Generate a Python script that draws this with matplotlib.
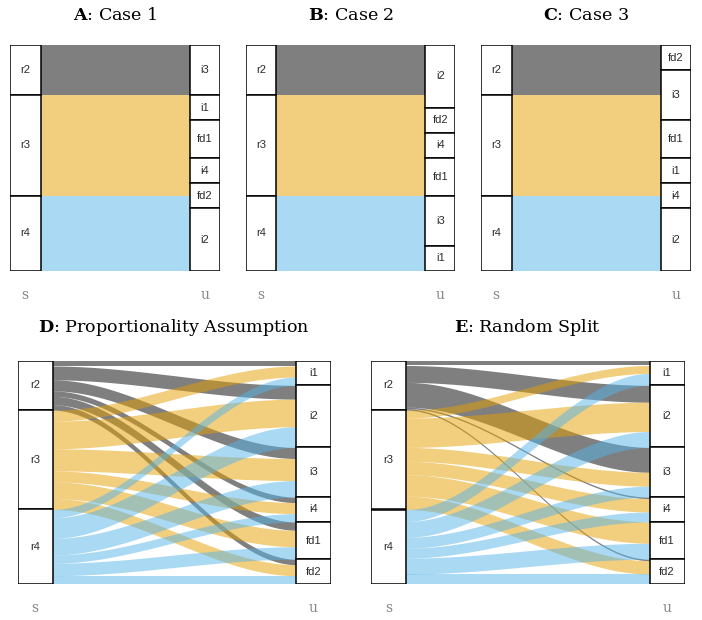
import numpy as np
import matplotlib.pyplot as plt
from matplotlib.patches import Rectangle

plt.rcParams['font.family'] = 'DejaVu Serif'
plt.rcParams['mathtext.fontset'] = 'dejavuserif'

# strata on the two axes
sources = ["r2", "r3", "r4"]
targets = ["i1", "i2", "i3", "i4", "fd1", "fd2"]

# order of the u strata, top to bottom, in each panel
order_case1 = ["i3", "i1", "fd1", "i4", "fd2", "i2"]
order_case2 = ["i2", "fd2", "i4", "fd1", "i3", "i1"]
order_case3 = ["fd2", "i3", "fd1", "i1", "i4", "i2"]
order_flow = ["i1", "i2", "i3", "i4", "fd1", "fd2"]

# flow sizes: rows r2, r3, r4; columns i1, i2, i3, i4, fd1, fd2
flows_case1 = [[0, 0, 100, 0, 0, 0],
               [50, 0, 0, 50, 75, 25],
               [0, 125, 0, 0, 0, 25]]
flows_case2 = [[0, 100, 0, 0, 0, 0],
               [0, 25, 0, 50, 75, 50],
               [50, 0, 100, 0, 0, 0]]
flows_case3 = [[0, 0, 50, 0, 0, 50],
               [50, 0, 50, 25, 75, 0],
               [0, 125, 0, 25, 0, 0]]
flows_prop = [[11.1, 27.8, 22.2, 11.1, 16.7, 11.1],
              [22.2, 55.6, 44.4, 22.2, 33.3, 22.2],
              [16.7, 41.7, 33.3, 16.7, 25.0, 16.7]]
flows_random = [[10, 34, 50, 3, 0, 3],
                [16, 59, 28, 27, 43, 27],
                [24, 32, 22, 20, 32, 20]]

colors = ["#000000", "#E69F00", "#56B4E9"]

W, H = 702, 620
fig = plt.figure(figsize=(W / 100, H / 100), dpi=100)


def draw_panel(title, flows, order, x0, x1, y0, y1, sw, title_y):
    """One alluvial panel; x0..x1, y0..y1 are pixel bounds of the strata."""
    ax = fig.add_axes([x0 / W, 1 - y1 / H, (x1 - x0) / W, (y1 - y0) / H])
    width = x1 - x0
    f = np.asarray(flows, float)[:, [targets.index(t) for t in order]]
    src_tot = f.sum(axis=1)
    tgt_tot = f.sum(axis=0)
    total = f.sum()
    src_top = np.concatenate([[0], np.cumsum(src_tot)[:-1]])
    tgt_top = np.concatenate([[0], np.cumsum(tgt_tot)[:-1]])
    left_y = src_top[:, None] + np.cumsum(f, axis=1) - f
    right_y = tgt_top[None, :] + np.cumsum(f, axis=0) - f

    t = np.linspace(0, 1, 150)
    s = 3 * t ** 2 - 2 * t ** 3
    x = sw + t * (width - 2 * sw)
    for i in range(len(sources)):
        for j in range(len(order)):
            if f[i, j] <= 0:
                continue
            top = left_y[i, j] + (right_y[i, j] - left_y[i, j]) * s
            ax.fill_between(x, top, top + f[i, j], color=colors[i],
                            alpha=0.5, lw=0)

    # strata boxes
    for lab, top, h in zip(sources, src_top, src_tot):
        ax.add_patch(Rectangle((0, top), sw, h, fc='white', ec='black',
                               lw=1.1, zorder=3))
        ax.text(sw / 2, top + h / 2, lab, ha='center', va='center',
                family='Liberation Sans', fontsize=8, color='#2a2a2a',
                zorder=4)
    for lab, top, h in zip(order, tgt_top, tgt_tot):
        ax.add_patch(Rectangle((width - sw, top), sw, h, fc='white',
                               ec='black', lw=1.1, zorder=3))
        ax.text(width - sw / 2, top + h / 2, lab, ha='center', va='center',
                family='Liberation Sans', fontsize=8, color='#2a2a2a',
                zorder=4)

    ax.set_xlim(0, width)
    ax.set_ylim(total, 0)
    ax.axis('off')

    for lab, xc in (("s", sw / 2), ("u", width - sw / 2)):
        ax.annotate(lab, (xc, 0), xycoords=('data', 'axes fraction'),
                    xytext=(0, -24 * 0.72), textcoords='offset points',
                    ha='center', va='center', fontsize=10, color='#888888')

    fig.text((x0 + x1) / 2 / W, 1 - title_y / H, title, ha='center',
             va='center', fontsize=12.6)


draw_panel(r"$\mathbf{A}$: Case 1", flows_case1, order_case1,
           10, 220, 45, 271, 30.5, 16)
draw_panel(r"$\mathbf{B}$: Case 2", flows_case2, order_case2,
           246, 455.5, 45, 271, 30, 16)
draw_panel(r"$\mathbf{C}$: Case 3", flows_case3, order_case3,
           481, 691, 45, 271, 30.5, 16)
draw_panel(r"$\mathbf{D}$: Proportionality Assumption", flows_prop, order_flow,
           17.5, 331, 360.5, 584, 35, 328)
draw_panel(r"$\mathbf{E}$: Random Split", flows_random, order_flow,
           371, 684.5, 360.5, 584, 35, 328)

fig.savefig("out.png", dpi=100)
